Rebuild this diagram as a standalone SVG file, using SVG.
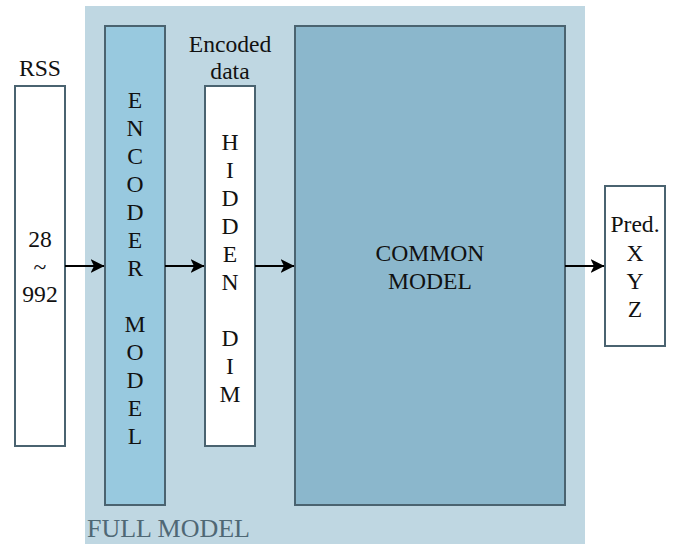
<svg xmlns="http://www.w3.org/2000/svg" width="684" height="544" viewBox="0 0 684 544">
<defs>
<marker id="arr" viewBox="0 0 14 14" refX="13.5" refY="7" markerWidth="14" markerHeight="14" markerUnits="userSpaceOnUse" orient="auto">
<path d="M0,0 L14,7 L0,14 L3.5,7 Z" fill="#000"/>
</marker>
</defs>
<style>
text{font-family:'Liberation Serif','Times New Roman','DejaVu Serif',serif}
.box{stroke:#4a6370;stroke-width:2}
.t{font-size:23.6px;fill:#111;text-anchor:middle}
.lbl{font-size:26px;fill:#4f6875}
.c{stroke:#000;stroke-width:2;fill:none}
</style>
<rect id="full-model-bg" x="85" y="6" width="500" height="540" fill="#bfd7e2"/>
<text class="lbl" x="87" y="537">FULL MODEL</text>
<g id="rss">
<rect class="box" x="15" y="86" width="50" height="360" fill="#fff"/>
<text class="t" x="40" y="76">RSS</text>
<text class="t" x="40" y="247">28</text>
<text class="t" x="40" y="274.5">~</text>
<text class="t" x="40" y="302">992</text>
</g>
<g id="encoder">
<rect class="box" x="105" y="26" width="60" height="479" fill="#98c9df"/>
<text class="t" x="135">
<tspan x="135" y="108">E</tspan><tspan x="135" y="136">N</tspan><tspan x="135" y="164">C</tspan><tspan x="135" y="192">O</tspan><tspan x="135" y="220">D</tspan><tspan x="135" y="248">E</tspan><tspan x="135" y="276">R</tspan><tspan x="135" y="332">M</tspan><tspan x="135" y="360">O</tspan><tspan x="135" y="388">D</tspan><tspan x="135" y="416">E</tspan><tspan x="135" y="444">L</tspan>
</text>
</g>
<g id="hidden">
<rect class="box" x="205" y="86" width="50" height="360" fill="#fff"/>
<text class="t" x="230" y="52">Encoded</text>
<text class="t" x="230" y="79">data</text>
<text class="t" x="230">
<tspan x="230" y="150">H</tspan><tspan x="230" y="178">I</tspan><tspan x="230" y="206">D</tspan><tspan x="230" y="234">D</tspan><tspan x="230" y="262">E</tspan><tspan x="230" y="290">N</tspan><tspan x="230" y="346">D</tspan><tspan x="230" y="374">I</tspan><tspan x="230" y="402">M</tspan>
</text>
</g>
<g id="common">
<rect class="box" x="295" y="26" width="270" height="479" fill="#8bb7cc"/>
<text class="t" x="430" y="261">COMMON</text>
<text class="t" x="430" y="289">MODEL</text>
</g>
<g id="pred">
<rect class="box" x="605" y="186" width="60" height="160" fill="#fff"/>
<text class="t" x="635" y="232">Pred.</text>
<text class="t" x="635" y="261">X</text>
<text class="t" x="635" y="289">Y</text>
<text class="t" x="635" y="317">Z</text>
</g>
<g id="connectors">
<line class="c" x1="65" y1="266" x2="104" y2="266" marker-end="url(#arr)"/>
<line class="c" x1="165" y1="266" x2="204" y2="266" marker-end="url(#arr)"/>
<line class="c" x1="255" y1="266" x2="294" y2="266" marker-end="url(#arr)"/>
<line class="c" x1="565" y1="266" x2="604" y2="266" marker-end="url(#arr)"/>
</g>
</svg>
